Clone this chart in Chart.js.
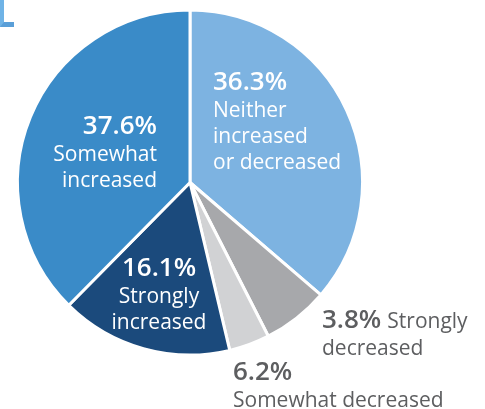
<!DOCTYPE html>
<html>
<head>
<meta charset="utf-8">
<script src="https://cdn.jsdelivr.net/npm/chart.js@4"></script>
<style>
  html, body { margin: 0; padding: 0; background: #fff; }
  #wrap { position: relative; width: 485px; height: 409px; }
  #corner {
    position: absolute; left: 0; top: 0; width: 10px; height: 22px;
    border-left: 4px solid #6fb3e6; border-bottom: 5px solid #5a9fd8;
  }
</style>
</head>
<body>
<div id="wrap">
  <canvas id="pie" width="485" height="409"></canvas>
  <div id="corner"></div>
</div>
<script>
const categories = [
  "Neither increased or decreased",
  "Somewhat decreased",
  "Strongly decreased",
  "Strongly increased",
  "Somewhat increased",
];
const shares = [36.3, 6.2, 3.8, 16.1, 37.6];
const sliceColors = ["#7db3e1", "#a7a8ab", "#d1d2d4", "#1b4a7c", "#3a8bc8"];

// label text blocks: percent line + description lines
const labelBlocks = [
  { pct: "36.3%", lines: ["Neither", "increased", "or decreased"], x: 213, y: 90, align: "left", color: "#fff" },
  { pct: "37.6%", lines: ["Somewhat", "increased"], x: 157, y: 134, align: "right", color: "#fff" },
  { pct: "16.1%", lines: ["Strongly", "increased"], x: 159, y: 276, align: "center", color: "#fff" },
  { pct: "3.8%", inline: "Strongly", lines: ["decreased"], x: 322, y: 328, align: "left", color: "#5d5e60" },
  { pct: "6.2%", lines: ["Somewhat decreased"], x: 233, y: 380, align: "left", color: "#5d5e60" },
];

const pctFont = "600 26px 'Open Sans'";
const textFont = "400 21px 'Open Sans'";

const labelPlugin = {
  id: "sliceLabels",
  afterDraw(chart) {
    const ctx = chart.ctx;
    ctx.save();
    ctx.textBaseline = "alphabetic";
    for (const b of labelBlocks) {
      ctx.fillStyle = b.color;
      ctx.textAlign = b.align;
      ctx.font = pctFont;
      ctx.fillText(b.pct, b.x, b.y);
      if (b.inline) {
        const w = ctx.measureText(b.pct).width;
        ctx.font = textFont;
        ctx.textAlign = "left";
        ctx.fillText(b.inline, b.x + w + 6, b.y);
      }
      ctx.font = textFont;
      ctx.textAlign = b.align;
      let y = b.y;
      b.lines.forEach((line, i) => {
        y += i === 0 ? 27 : 26;
        ctx.fillText(line, b.x, y);
      });
    }
    ctx.restore();
  },
};

new Chart(document.getElementById("pie"), {
  type: "pie",
  data: {
    labels: categories,
    datasets: [{
      data: shares,
      backgroundColor: sliceColors,
      borderColor: "#ffffff",
      borderWidth: 3,
    }],
  },
  options: {
    responsive: false,
    animation: false,
    layout: { padding: { left: 16, right: 121, top: 8.5, bottom: 52.5 } },
    plugins: {
      legend: { display: false },
      tooltip: { enabled: false },
    },
  },
  plugins: [labelPlugin],
});
</script>
</body>
</html>
